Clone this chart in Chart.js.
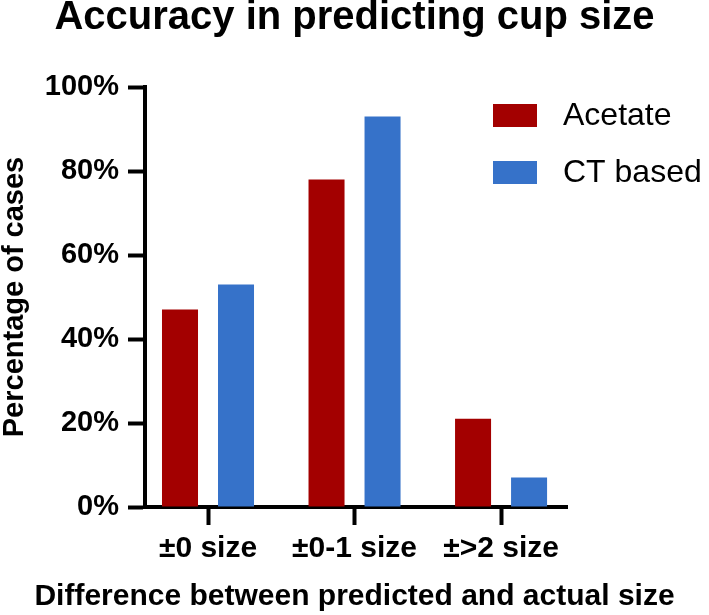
<!DOCTYPE html>
<html>
<head>
<meta charset="utf-8">
<script src="https://cdn.jsdelivr.net/npm/chart.js@4.4.1/dist/chart.umd.min.js"></script>
<style>
  html, body { margin: 0; padding: 0; background: #fff; }
  #wrap { width: 709px; height: 615px; }
</style>
</head>
<body>
<div id="wrap"><canvas id="myChart" width="709" height="615"></canvas></div>
<script>
const categories = ['±0 size', '±0-1 size', '±>2 size'];
const acetate = [47, 78, 21];
const ctBased = [53, 93, 7];
const yTicks = [0, 20, 40, 60, 80, 100];

const FONT = '"Liberation Sans", Arial, Helvetica, sans-serif';
const RED = '#a30000';
const BLUE = '#3672c9';

const toPoints = vals => vals.map((v, i) => ({ x: i, y: v }));

// legend drawn in the top right corner of the plot
const cornerLegend = {
    id: 'cornerLegend',
    afterDraw(chart) {
        const c = chart.ctx;
        const area = chart.chartArea;
        c.save();
        c.font = '32px ' + FONT;
        c.textBaseline = 'middle';
        c.textAlign = 'left';
        chart.data.datasets.forEach((ds, i) => {
            const bx = area.right - 74;
            const by = area.top + 17 + i * 57;
            c.fillStyle = ds.backgroundColor;
            c.fillRect(bx, by, 44, 23);
            c.fillStyle = '#000';
            c.fillText(ds.label, bx + 70, by + 12);
        });
        c.restore();
    }
};

const ctx = document.getElementById('myChart').getContext('2d');

const myChart = new Chart(ctx, {
    type: 'bar',
    data: {
        datasets: [{
            label: 'Acetate',
            data: toPoints(acetate),
            backgroundColor: RED
        }, {
            label: 'CT based',
            data: toPoints(ctBased),
            backgroundColor: BLUE
        }]
    },
    options: {
        responsive: false,
        animation: false,
        categoryPercentage: 0.7645,
        barPercentage: 0.643,
        layout: { padding: 0 },
        plugins: {
            legend: { display: false },
            tooltip: { enabled: false },
            title: {
                display: true,
                text: 'Accuracy in predicting cup size',
                color: '#000',
                font: { family: FONT, size: 40, weight: 'bold', lineHeight: 0.9 },
                padding: { top: 0, bottom: 51 }
            },
            subtitle: {
                display: true,
                position: 'bottom',
                text: 'Difference between predicted and actual size',
                color: '#000',
                font: { family: FONT, size: 30, weight: 'bold', lineHeight: 1.2 },
                padding: { top: 0, bottom: 0 }
            }
        },
        scales: {
            x: {
                type: 'linear',
                min: -0.43,
                max: 2.45,
                offset: false,
                afterFit: s => { s.height = 72; },
                grid: {
                    offset: false,
                    drawOnChartArea: false,
                    drawTicks: true,
                    tickLength: 18,
                    tickWidth: 4,
                    tickColor: '#000'
                },
                border: { display: true, color: '#000', width: 4 },
                ticks: {
                    stepSize: 1,
                    includeBounds: false,
                    autoSkip: false,
                    maxRotation: 0,
                    padding: 6,
                    color: '#000',
                    font: { family: FONT, size: 30, weight: 'bold' },
                    callback: v => categories[v]
                }
            },
            y: {
                min: 0,
                max: 100,
                afterFit: s => { s.width = 145; },
                afterBuildTicks: s => { s.ticks = yTicks.map(v => ({ value: v })); },
                grid: {
                    drawOnChartArea: false,
                    drawTicks: true,
                    tickLength: 17,
                    tickWidth: 4,
                    tickColor: '#000'
                },
                border: { display: true, color: '#000', width: 4 },
                ticks: {
                    padding: 9,
                    color: '#000',
                    font: { family: FONT, size: 29, weight: 'bold' },
                    callback: v => v + '%'
                },
                title: {
                    display: true,
                    text: 'Percentage of cases',
                    color: '#000',
                    font: { family: FONT, size: 29, weight: 'bold', lineHeight: 1 },
                    padding: { top: 0, bottom: 0 }
                }
            },
            // empty right axis that only keeps room for the legend
            spacer: {
                type: 'linear',
                position: 'right',
                afterFit: s => { s.width = 142; },
                grid: { display: false, drawTicks: false },
                border: { display: false },
                ticks: { display: false }
            }
        }
    },
    plugins: [cornerLegend]
});
</script>
</body>
</html>
